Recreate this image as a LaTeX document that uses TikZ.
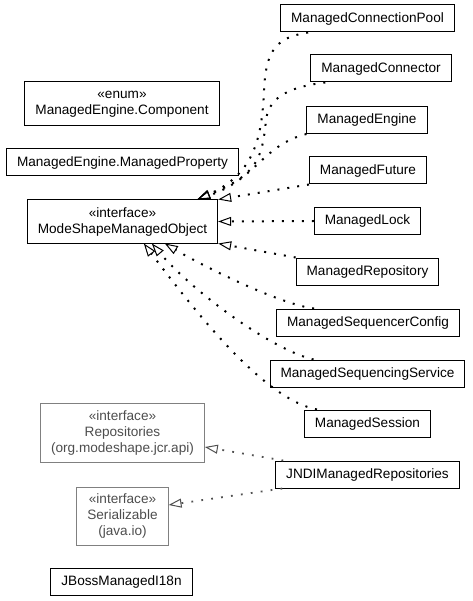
\documentclass[tikz,border=0pt]{standalone}
\usepackage{fontspec}
\setmainfont{Liberation Sans}
\usepackage{tikz}
\usetikzlibrary{arrows.meta}

\definecolor{extgray}{HTML}{808080}
\definecolor{exttext}{HTML}{4D4D4D}
\definecolor{extedge}{HTML}{505050}

\begin{document}
\begin{tikzpicture}[x=1pt, y=-1pt,
	cls/.style={draw, line width=1pt, inner xsep=10.5pt, inner ysep=0pt, minimum height=27pt, align=center, font=\fontsize{13.6}{16}\selectfont},
	ext/.style={cls, draw=extgray, text=exttext, line width=0.8pt},
	realize/.style={line width=2pt, dash pattern=on 2pt off 8pt, -{Triangle[open, length=13pt, width=9pt, line width=1pt]}},
	extrealize/.style={realize, draw=extedge, line width=1.8pt, dash pattern=on 1.8pt off 8.2pt}]
	\useasboundingbox (0,0) rectangle (472,601);

	\node[cls] (pool) at (367.5,18.5) {ManagedConnectionPool};
	\node[cls] (conn) at (381,68.5) {ManagedConnector};
	\node[cls, minimum height=44pt] (comp) at (122,104) {«enum»\\ManagedEngine.Component};
	\node[cls] (engine) at (367,120) {ManagedEngine};
	\node[cls] (prop) at (122.5,162.5) {ManagedEngine.ManagedProperty};
	\node[cls] (future) at (368,170.5) {ManagedFuture};
	\node[cls, minimum height=43pt] (mso) at (122.5,221.5) {«interface»\\ModeShapeManagedObject};
	\node[cls] (lock) at (367.5,221) {ManagedLock};
	\node[cls] (repo) at (367.5,271.5) {ManagedRepository};
	\node[cls] (seqconf) at (368,322.5) {ManagedSequencerConfig};
	\node[cls] (seqserv) at (367.5,373.5) {ManagedSequencingService};
	\node[cls] (session) at (367.5,423.5) {ManagedSession};
	\node[ext, minimum height=59pt] (repos) at (122.5,432.5) {«interface»\\Repositories\\(org.modeshape.jcr.api)};
	\node[cls] (jndi) at (367.5,474.5) {JNDIManagedRepositories};
	\node[ext, minimum height=58pt] (ser) at (122.5,516) {«interface»\\Serializable\\(java.io)};
	\node[cls] (jboss) at (121.5,582) {JBossManagedI18n};

	% realizations of ModeShapeManagedObject
	\draw[realize] ([xshift=28pt]pool.south west) .. controls +(-32,5) and +(2,-40) .. (264,90)
		.. controls +(-2,50) and +(56,-25) .. ([xshift=-21pt]mso.north east);
	\draw[realize] ([xshift=15pt]conn.south west) .. controls +(-32,4) and +(3,-25) .. (266,120)
		.. controls +(-4,40) and +(60,-25) .. ([xshift=-21pt]mso.north east);
	\draw[realize] (engine.south west) .. controls +(-44,11) and +(59,-20) .. ([xshift=-21pt]mso.north east);
	\path [realize] (future.south west) edge (mso.north east);
	\path [realize] (lock.west) edge (mso.east);
	\path [realize] (repo.north west) edge (mso.south east);
	\draw[realize] ([xshift=38pt]seqconf.north west) .. controls +(-34,-4) and +(37,22) .. ([xshift=138pt]mso.south west);
	\draw[realize] ([xshift=44pt]seqserv.north west) .. controls +(-43,-10) and +(40,47) .. ([xshift=125pt]mso.south west);
	\draw[realize] ([xshift=13pt]session.north west) .. controls +(-51,-10) and +(58,77) .. ([xshift=117pt]mso.south west);

	% external interfaces
	\draw[extrealize] ([xshift=8pt]jndi.north west) -- ([yshift=-14.5pt]repos.east);
	\draw[extrealize] ([xshift=7pt]jndi.south west) -- ([yshift=11pt]ser.east);
\end{tikzpicture}
\end{document}
